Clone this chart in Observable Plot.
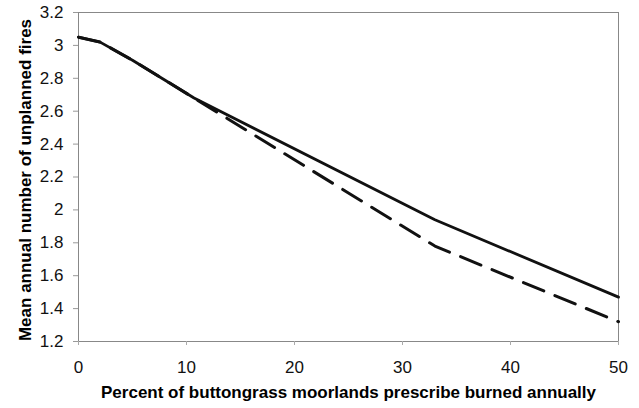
<!DOCTYPE html>
<html>
<head>
<meta charset="utf-8">
<script src="https://cdn.jsdelivr.net/npm/d3@7"></script>
<script src="https://cdn.jsdelivr.net/npm/@observablehq/plot@0.6"></script>
<style>
  html, body { margin: 0; padding: 0; background: #fff; }
  #chart { width: 639px; height: 408px; }
</style>
</head>
<body>
<div id="chart"></div>
<script>
const percentBurned = [0, 2, 5, 10.7, 33, 50];
const solidFires = [3.05, 3.02, 2.91, 2.68, 1.94, 1.47];
const dashedFires = [3.05, 3.02, 2.91, 2.68, 1.78, 1.32];
const xTicks = [0, 10, 20, 30, 40, 50];
const yTicks = [1.2, 1.4, 1.6, 1.8, 2, 2.2, 2.4, 2.6, 2.8, 3, 3.2];
const xTitle = "Percent of buttongrass moorlands prescribe burned annually";
const yTitle = "Mean annual number of unplanned fires";

const solidData = percentBurned.map((x, i) => ({x, y: solidFires[i]}));
const dashedData = percentBurned.map((x, i) => ({x, y: dashedFires[i]}));

const chart = Plot.plot({
  width: 639,
  height: 408,
  marginLeft: 78,
  marginRight: 21,
  marginTop: 12,
  marginBottom: 67,
  style: {fontFamily: "'Liberation Sans', Arial, sans-serif", fontSize: "17px", color: "#000", background: "#fff", overflow: "visible"},
  x: {domain: [0, 50]},
  y: {domain: [1.2, 3.2]},
  marks: [
    Plot.frame({stroke: "#888", strokeWidth: 1}),
    Plot.axisX({ticks: xTicks, tickSize: 4, tickPadding: 15, stroke: "#aaa", label: null, fontSize: 17, fill: "#111", tickFormat: d => String(d)}),
    Plot.axisY({ticks: yTicks, tickSize: 5, tickPadding: 10, stroke: "#999", label: null, fontSize: 17, fill: "#111", tickFormat: d => String(+d.toFixed(1))}),
    Plot.text([xTitle], {frameAnchor: "bottom", dy: 56, fontWeight: "bold", fontSize: 17, fill: "#000"}),
    Plot.text([yTitle], {frameAnchor: "left", textAnchor: "middle", rotate: -90, dx: -53, dy: 3, fontWeight: "bold", fontSize: 17, fill: "#000"}),
    Plot.line(dashedData, {x: "x", y: "y", stroke: "#111", strokeWidth: 3, strokeDasharray: "22,12"}),
    Plot.line(solidData, {x: "x", y: "y", stroke: "#111", strokeWidth: 2.8})
  ]
});
document.getElementById("chart").appendChild(chart);
</script>
</body>
</html>
